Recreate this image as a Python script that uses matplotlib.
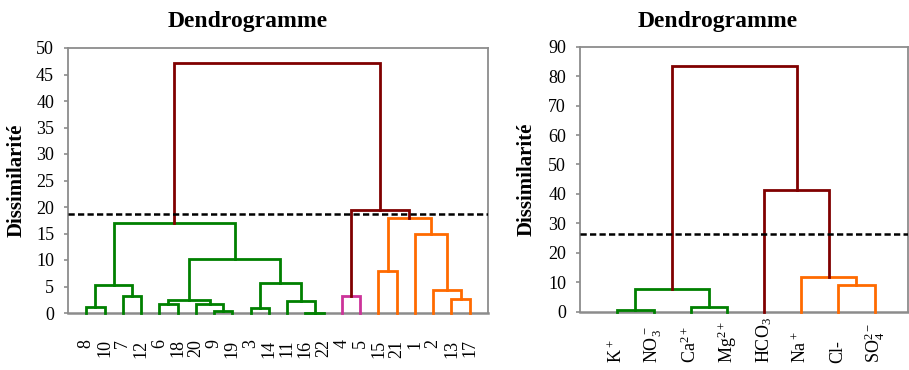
import matplotlib
matplotlib.use("Agg")
import matplotlib.pyplot as plt
import matplotlib.transforms as mtransforms

plt.rcParams.update({
    "font.family": "Liberation Serif", "font.size": 13,
    "mathtext.fontset": "custom", "mathtext.rm": "Liberation Serif",
    "figure.facecolor": "white", "axes.facecolor": "white",
})

GREEN = "#008000"
DARK = "#800000"
PINK = "#CC3399"
ORANGE = "#FF6A00"
GRAY = "#8c8c8c"

# ── left dendrogram: individuals ────────────────────────────────────────────
ind_labels = ["8", "10", "7", "12", "6", "18", "20", "9", "19", "3", "14",
              "11", "16", "22", "4", "5", "15", "21", "1", "2", "13", "17"]
# merges: (child a, child b, height); leaves are 0..21, merge k is node 22+k
ind_merges = [
    (0, 1, 1.1), (2, 3, 3.2), (22, 23, 5.3), (4, 5, 1.75), (7, 8, 0.3),
    (6, 26, 1.65), (25, 27, 2.5), (9, 10, 0.95), (12, 13, 0.05), (11, 30, 2.25),
    (29, 31, 5.65), (28, 32, 10.2), (24, 33, 16.9), (14, 15, 3.2), (16, 17, 7.9),
    (20, 21, 2.55), (19, 37, 4.35), (18, 38, 14.9), (36, 39, 17.9), (35, 40, 19.4),
    (34, 41, 47.2),
]
ind_colors = [GREEN] * 13 + [PINK] + [ORANGE] * 5 + [DARK, DARK]
ind_cut = 18.6

# ── right dendrogram: ions ──────────────────────────────────────────────────
ion_labels = [r"$\mathregular{K^+}$", r"$\mathregular{NO_3^-}$", r"$\mathregular{Ca^{2+}}$",
              r"$\mathregular{Mg^{2+}}$", r"$\mathregular{HCO_3}$", r"$\mathregular{Na^+}$",
              "Cl-", r"$\mathregular{SO_4^{2-}}$"]
ion_merges = [
    (0, 1, 0.5), (2, 3, 1.6), (8, 9, 7.6), (6, 7, 9.1), (5, 11, 11.7),
    (4, 12, 41.2), (10, 13, 83.5),
]
ion_colors = [GREEN, GREEN, GREEN, ORANGE, ORANGE, DARK, DARK]
ion_cut = 26.3


def draw_dendro(ax, n, merges, colors):
    xs = {i: i + 1 for i in range(n)}
    hs = {i: 0.0 for i in range(n)}
    for k, ((a, b, h), c) in enumerate(zip(merges, colors)):
        node = n + k
        ax.plot([xs[a], xs[a], xs[b], xs[b]], [hs[a], h, h, hs[b]],
                color=c, lw=2, solid_joinstyle="miter", zorder=3, clip_on=False)
        xs[node] = (xs[a] + xs[b]) / 2
        hs[node] = h


def style(ax):
    for s in ax.spines.values():
        s.set_color(GRAY)
        s.set_linewidth(1.3)
    ax.spines["bottom"].set_linewidth(1.8)
    ax.tick_params(axis="y", direction="out", length=3, width=1.2, color=GRAY, pad=7)


fig = plt.figure(figsize=(9.09, 3.70), dpi=100)

ax1 = fig.add_axes([68 / 909, 1 - 313 / 370, 420 / 909, 265 / 370])
draw_dendro(ax1, len(ind_labels), ind_merges, ind_colors)
ax1.axhline(ind_cut, color="black", lw=1.8, ls=(0, (2.5, 1.3)), zorder=4)
ax1.set_xlim(0, len(ind_labels) + 1)
ax1.set_ylim(0, 50)
ax1.set_yticks(range(0, 51, 5))
ax1.set_xticks(range(1, len(ind_labels) + 1))
ax1.set_xticklabels(ind_labels, rotation=90)
ax1.tick_params(axis="x", length=0, pad=19)
style(ax1)

ax2 = fig.add_axes([580 / 909, 1 - 311.7 / 370, 328 / 909, 265 / 370])
draw_dendro(ax2, len(ion_labels), ion_merges, ion_colors)
ax2.axhline(ion_cut, color="black", lw=1.8, ls=(0, (2.5, 1.3)), zorder=4)
ax2.set_xlim(0, 8.9)
ax2.set_ylim(0, 90)
ax2.set_yticks(range(0, 91, 10))
ax2.set_xticks([])
trans = mtransforms.blended_transform_factory(ax2.transData, fig.transFigure)
for i, lab in enumerate(ion_labels):
    ax2.text(i + 1, 1 - 363 / 370, lab, rotation=90, ha="center", va="bottom",
             transform=trans, fontsize=13)
style(ax2)

fig.text(248 / 909, 1 - 21 / 370, "Dendrogramme", ha="center", va="center",
         fontsize=17, fontweight="bold")
fig.text(718 / 909, 1 - 22 / 370, "Dendrogramme", ha="center", va="center",
         fontsize=17, fontweight="bold")
fig.text(17 / 909, 1 - 180 / 370, "Dissimilarité", rotation=90, ha="center",
         va="center", fontsize=15, fontweight="bold")
fig.text(527 / 909, 1 - 179 / 370, "Dissimilarité", rotation=90, ha="center",
         va="center", fontsize=15, fontweight="bold")

fig.savefig("out.png", dpi=100)
